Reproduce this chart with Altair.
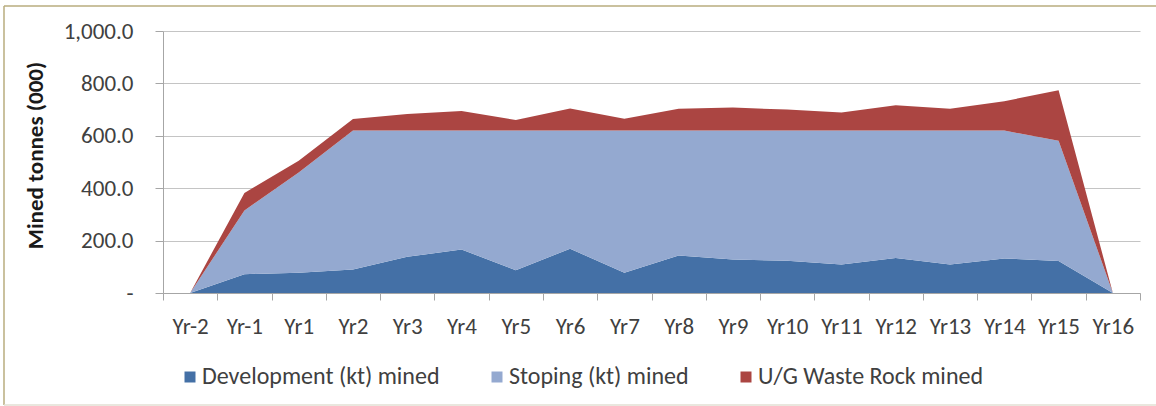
import altair as alt
import pandas as pd

# Mining schedule, thousand tonnes per year
years = ["Yr-2", "Yr-1", "Yr1", "Yr2", "Yr3", "Yr4", "Yr5", "Yr6", "Yr7",
         "Yr8", "Yr9", "Yr10", "Yr11", "Yr12", "Yr13", "Yr14", "Yr15", "Yr16"]
development = [0, 72, 77, 90, 138, 166, 87, 169, 77, 143, 128, 123, 109, 134, 109, 132, 122, 0]
stoping = [0, 243, 383, 530, 482, 454, 533, 451, 543, 477, 492, 497, 511, 486, 511, 488, 459, 0]
waste_rock = [0, 67, 45, 44, 63, 75, 40, 84, 45, 83, 88, 80, 69, 97, 83, 112, 193, 0]

series_names = ["Development (kt) mined", "Stoping (kt) mined", "U/G Waste Rock mined"]
series_colors = ["#4470A6", "#94A9D0", "#AB4542"]
y_ticks = [0, 200, 400, 600, 800, 1000]

rows = []
for order, (name, values) in enumerate(zip(series_names, [development, stoping, waste_rock])):
    for pos, (yr, v) in enumerate(zip(years, values)):
        rows.append({"pos": pos, "year": yr, "series": name, "order": order, "tonnes": v})
df = pd.DataFrame(rows)

FONT = "Calibri, Carlito, Lato, sans-serif"
TEXT = "#404040"
AXIS = "#A6A6A6"

n = len(years)
# category boundaries get tick marks, category centres get labels
x_values = [-0.5 + 0.5 * i for i in range(2 * n + 1)]
year_js = "[" + ",".join("'" + y + "'" for y in years) + "]"

x_axis = alt.Axis(
    values=x_values,
    labelExpr="datum.value % 1 == 0 ? " + year_js + "[datum.value] : ''",
    labelOverlap=False,
    labelFont=FONT, labelFontSize=23, labelColor=TEXT, labelPadding=15,
    tickSize=7, tickColor=AXIS,
    tickOpacity={"condition": {"test": "datum.value % 1 == 0", "value": 0}, "value": 1},
    domainColor=AXIS, grid=False, title=None,
)

y_axis = alt.Axis(
    values=y_ticks,
    labelExpr="datum.value == 0 ? '-\u00a0\u00a0\u00a0' : format(datum.value, ',.1f')",
    labelFont=FONT, labelFontSize=23, labelColor=TEXT, labelPadding=22,
    tickSize=8, tickColor=AXIS, domainColor=AXIS,
    grid=True, gridColor="#C4C4C4",
    title="Mined tonnes (000)", titleFont=FONT, titleFontSize=23, titleFontWeight="bold",
    titleColor="#1A1A1A", titleAngle=270, titleAlign="center", titleBaseline="middle",
    titleX=-128, titleY=124,
)

areas = alt.Chart(df).mark_area(opacity=1, interpolate="linear").encode(
    x=alt.X("pos:Q", scale=alt.Scale(domain=[-0.5, n - 0.5], nice=False, zero=False), axis=x_axis),
    y=alt.Y("tonnes:Q", stack="zero",
            scale=alt.Scale(domain=[0, 1000], nice=False), axis=y_axis),
    color=alt.Color(
        "series:N",
        scale=alt.Scale(domain=series_names, range=series_colors),
        legend=alt.Legend(
            orient="none", legendX=15, legendY=334, direction="horizontal",
            title=None, symbolType="square", symbolSize=121, symbolStrokeWidth=0,
            symbolOpacity=1, labelFont=FONT, labelFontSize=24, labelColor=TEXT,
            labelLimit=500, labelOffset=0, columnPadding=45, padding=0,
        ),
    ),
    order=alt.Order("order:Q"),
)

# thin frame around the chart
frame_src = pd.DataFrame({"k": [0]})
frame_top = alt.Chart(frame_src).mark_rule(color="#B8AC7E", strokeWidth=1.5).encode(
    x=alt.value(-159), x2=alt.value(1000), y=alt.value(-25))
frame_left = alt.Chart(frame_src).mark_rule(color="#B8AC7E", strokeWidth=1.5).encode(
    x=alt.value(-159), y=alt.value(-25), y2=alt.value(374))
frame_bottom = alt.Chart(frame_src).mark_rule(color="#E2DFD3", strokeWidth=1.5).encode(
    x=alt.value(-159), x2=alt.value(1000), y=alt.value(374))

chart = alt.layer(areas, frame_top, frame_left, frame_bottom).properties(
    width=977,
    height=262,
    autosize=alt.AutoSizeParams(type="none"),
    padding={"left": 163, "top": 31, "right": 16, "bottom": 113},
    background="white",
).configure_view(stroke=None)

chart.save("out.html", embed_options={"renderer": "svg", "actions": False})
